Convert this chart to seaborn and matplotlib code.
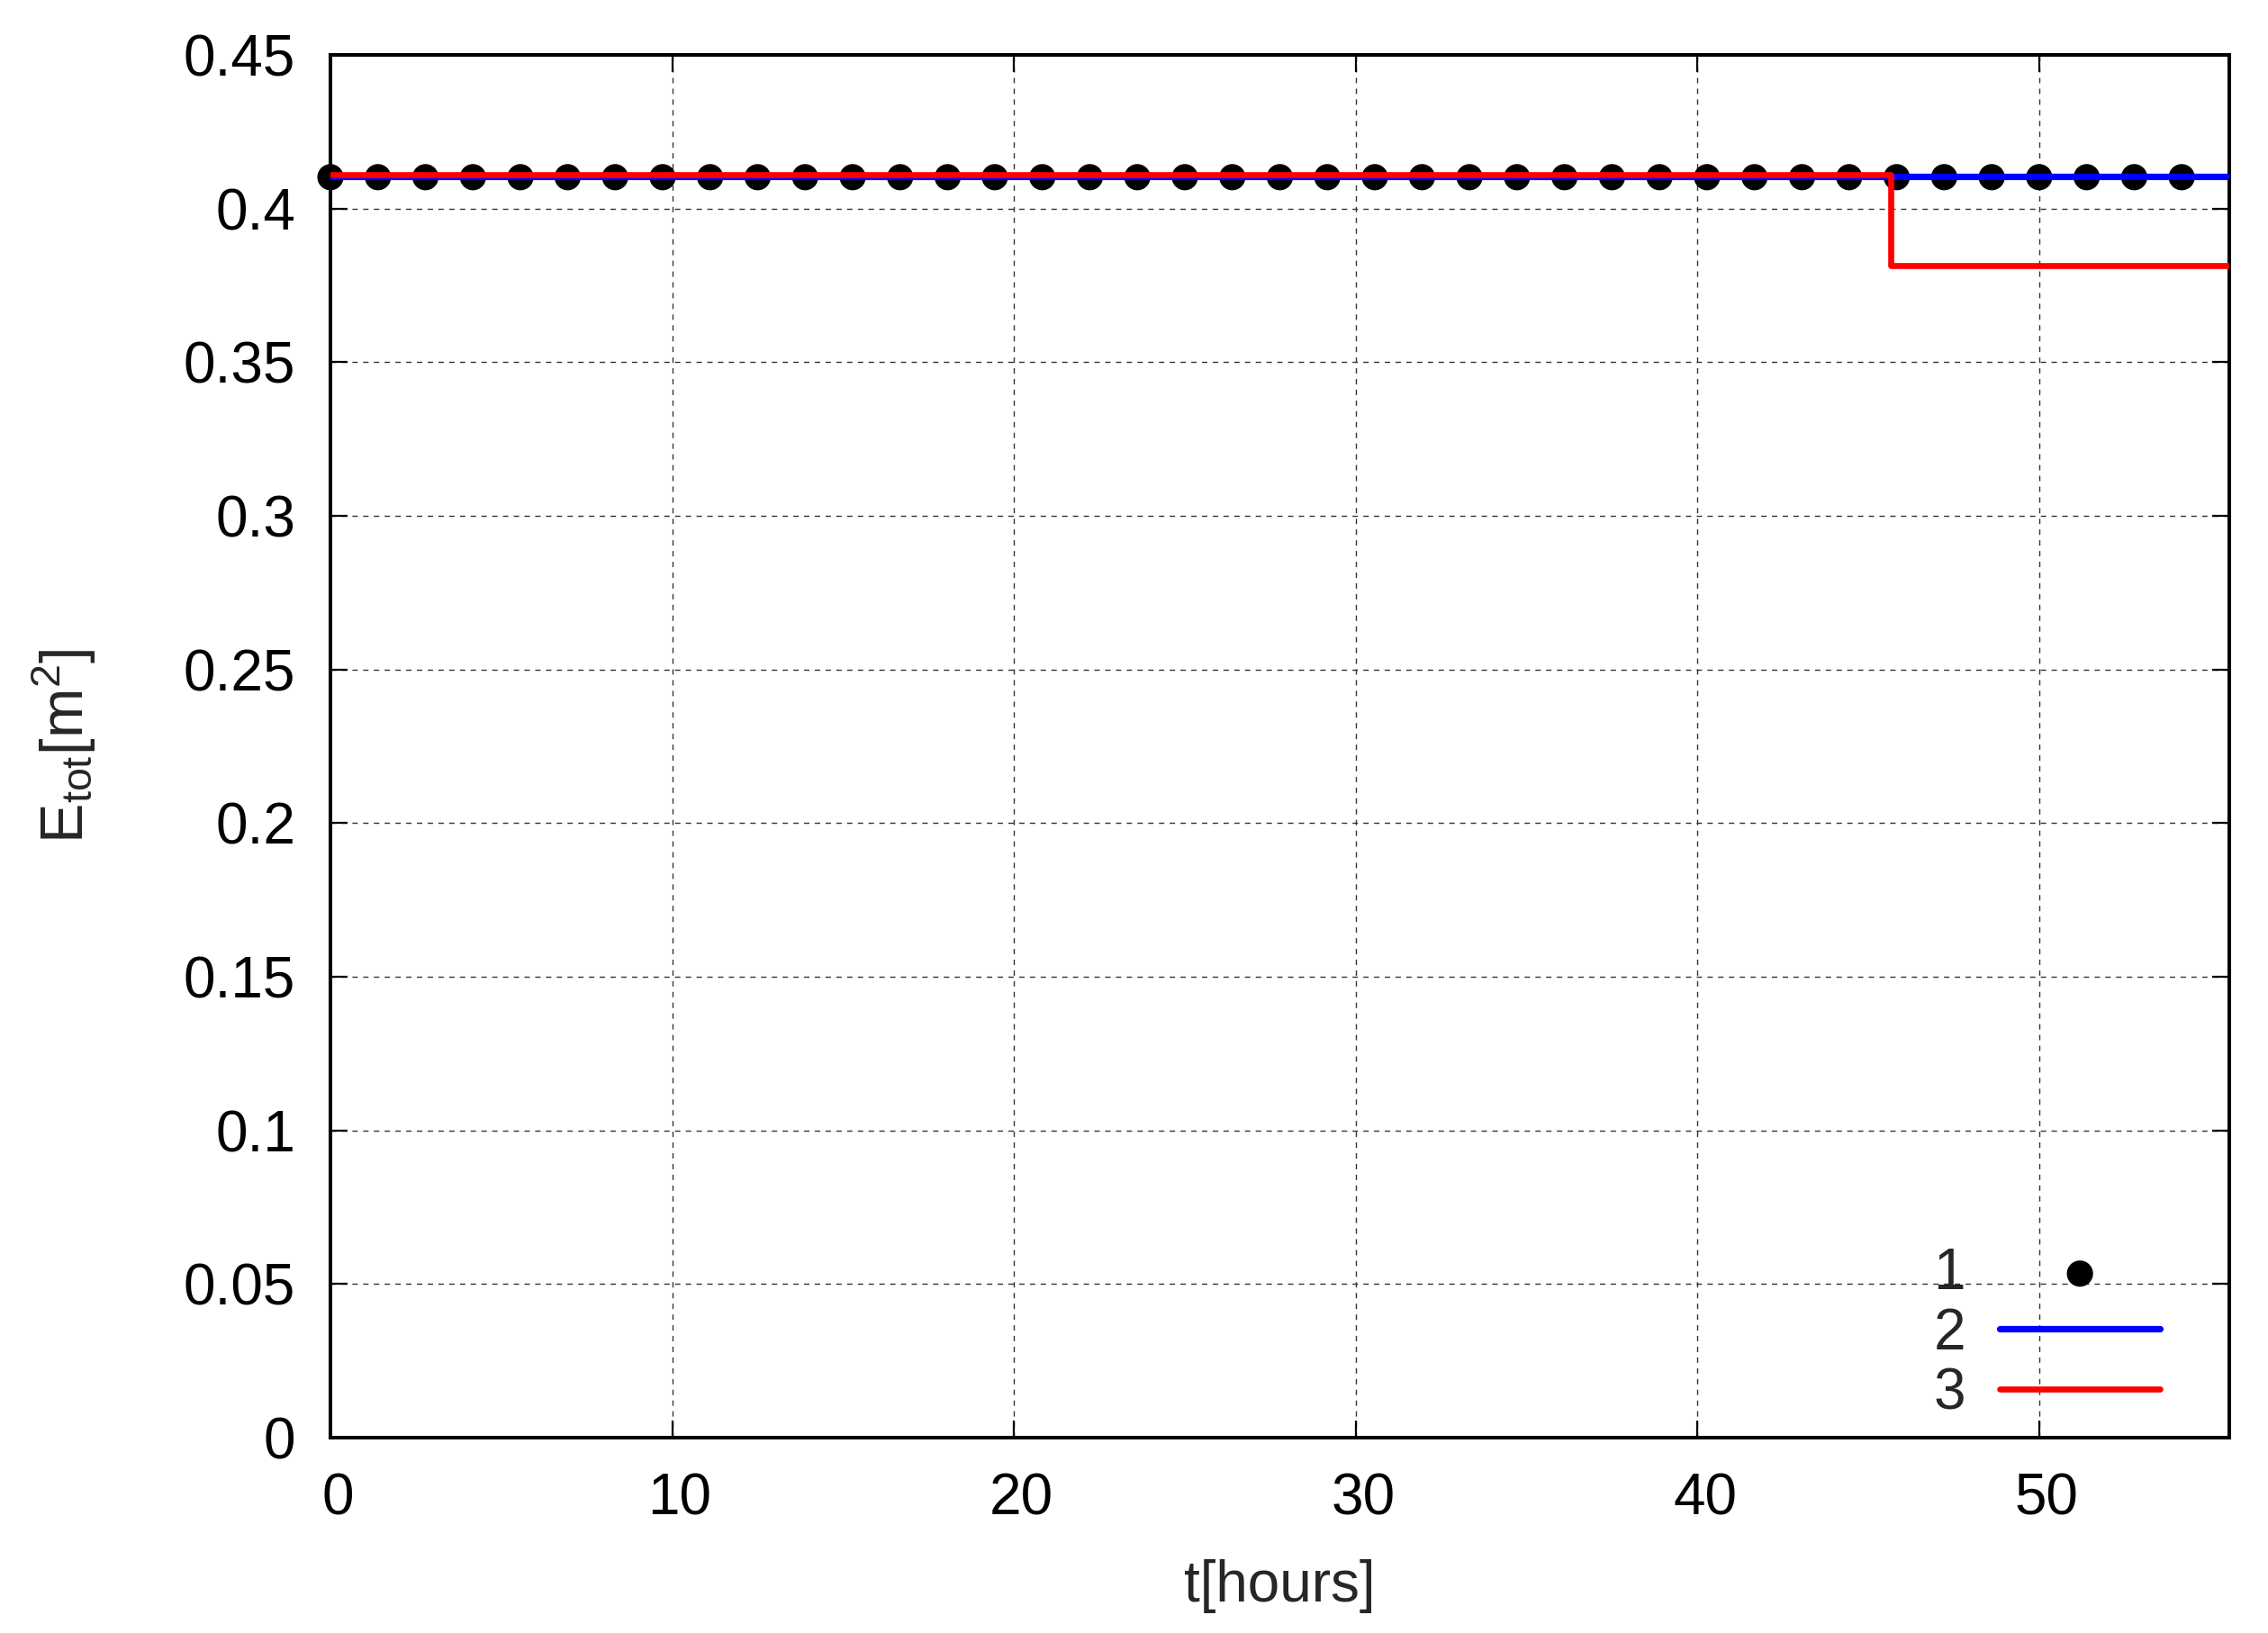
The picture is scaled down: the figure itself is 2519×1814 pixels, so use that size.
import numpy as np
import pandas as pd
import matplotlib
matplotlib.use("Agg")
import matplotlib.pyplot as plt
import matplotlib.transforms as mtransforms
import seaborn as sns
from matplotlib.ticker import FormatStrFormatter

# data (t in hours)
t_dots = [0.00, 1.39, 2.78, 4.17, 5.56, 6.94, 8.33, 9.72, 11.11, 12.50,
          13.89, 15.28, 16.67, 18.06, 19.44, 20.83, 22.22, 23.61, 25.00, 26.39,
          27.78, 29.17, 30.56, 31.94, 33.33, 34.72, 36.11, 37.50, 38.89, 40.28,
          41.67, 43.06, 44.44, 45.83, 47.22, 48.61, 50.00, 51.39, 52.78, 54.17]
e_dots = [0.4102] * 40

t_blue = [0.0, 55.56]
e_blue = [0.4104, 0.4104]

t_red = [0.0, 45.65, 55.56]
e_red = [0.4111, 0.3814, 0.3814]

labels = ["1", "2", "3"]

sns.set_style("ticks")
plt.rcParams["font.family"] = ["Liberation Sans", "DejaVu Sans"]
plt.rcParams["mathtext.fontset"] = "custom"
plt.rcParams["mathtext.rm"] = "Liberation Sans"
plt.rcParams["mathtext.it"] = "Liberation Sans"
plt.rcParams["font.size"] = 23

fig = plt.figure(figsize=(12.595, 9.07), dpi=200)
ax = fig.add_axes([0.1457, 0.1196, 0.9829 - 0.1457, 0.9664 - 0.1196])

sns.scatterplot(x=t_dots, y=e_dots, ax=ax, color="black", s=110,
                edgecolor="none", label=labels[0], clip_on=False, zorder=3)
sns.lineplot(x=t_blue, y=e_blue, ax=ax, color="#0000ff", linewidth=2.6,
             label=labels[1], zorder=4)
sns.lineplot(x=t_red, y=e_red, ax=ax, color="#ff0000", linewidth=2.4,
             label=labels[2], drawstyle="steps-post", zorder=5)

ax.set_xlim(0, 55.56)
ax.set_ylim(0, 0.45)
ax.set_xticks(np.arange(0, 51, 10))
ax.set_yticks(np.arange(0, 0.451, 0.05))
ax.yaxis.set_major_formatter(FormatStrFormatter("%g"))

ax.grid(True, color="0.2", linewidth=0.5, linestyle=(0, (4.3, 4.3)))
ax.set_axisbelow(True)
for sp in ax.spines.values():
    sp.set_linewidth(1.45)
    sp.set_color("black")
ax.tick_params(direction="in", length=7, width=0.8, pad=14, labelsize=23,
               top=True, right=True, colors="black")

# gnuplot puts the x tick labels a touch to the right
shift = mtransforms.ScaledTranslation(3 / 72, 0, fig.dpi_scale_trans)
for lab in ax.get_xticklabels():
    lab.set_transform(lab.get_transform() + shift)

ax.set_xlabel("t[hours]", fontsize=23, labelpad=13)
ax.set_ylabel(r"$\mathregular{E_{tot}[m^2]}$", fontsize=24, labelpad=34)

leg = ax.legend(loc="lower right", bbox_to_anchor=(0.9635, 0.012), frameon=False,
                markerfirst=False, handlelength=2.78, handletextpad=0.6,
                labelspacing=0.11, borderpad=0, borderaxespad=0, fontsize=23,
                markerscale=1.0)

fig.savefig("out.png", dpi=200)
